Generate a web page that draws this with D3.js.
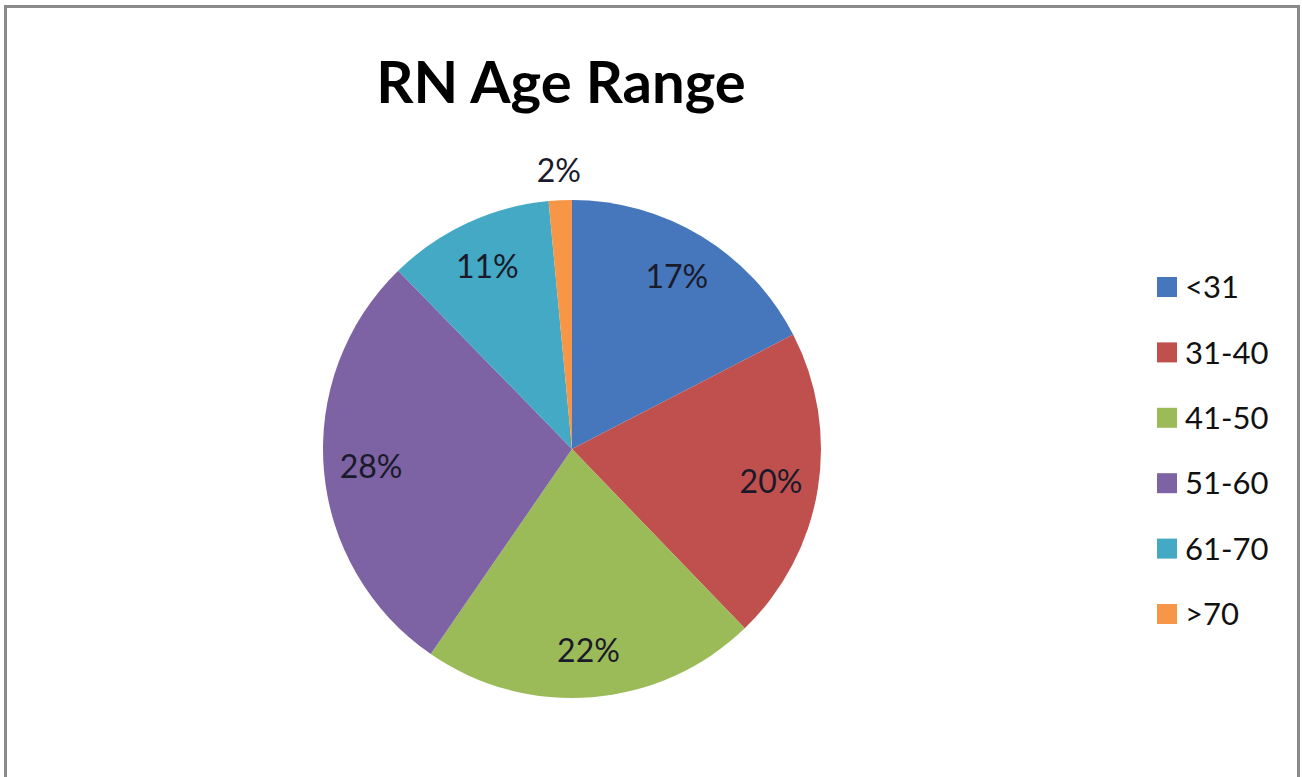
<!DOCTYPE html>
<html>
<head>
<meta charset="utf-8">
<script src="https://cdn.jsdelivr.net/npm/d3@7.9.0/dist/d3.min.js"></script>
<style>
  html, body { margin: 0; padding: 0; background: #fff; }
  svg { display: block; }
</style>
</head>
<body>
<svg id="chart" width="1302" height="777"></svg>
<script>
// Chart data (shares in percent)
const categories = ['<31', '31-40', '41-50', '51-60', '61-70', '>70'];
const shares = [17.4, 20.4, 21.8, 28.1, 10.8, 1.5];
const colors = ['#4677BC', '#C0504D', '#9BBB59', '#7D62A4', '#43A9C4', '#F79646'];
const title = 'RN Age Range';

const svg = d3.select('#chart');

// outer frame (bottom edge is cut off in the picture)
svg.append('rect')
  .attr('x', 5.5).attr('y', 6.5)
  .attr('width', 1293).attr('height', 800)
  .attr('fill', '#fff')
  .attr('stroke', '#8a8a8a')
  .attr('stroke-width', 3);

// title
svg.append('text')
  .attr('x', 561).attr('y', 103)
  .attr('text-anchor', 'middle')
  .style('font-family', 'Lato, "Open Sans", sans-serif')
  .style('font-weight', 'bold')
  .style('font-size', '58px')
  .attr('fill', '#000')
  .text(title);

const data = categories.map((c, i) => ({ label: c, value: shares[i] }));

const cx = 572, cy = 449, r = 249;
const pie = d3.pie().value(d => d.value).sort(null);
const arc = d3.arc().innerRadius(0).outerRadius(r);
const arcs = pie(data);

const g = svg.append('g').attr('transform', `translate(${cx},${cy})`);

g.selectAll('path')
  .data(arcs)
  .join('path')
  .attr('d', arc)
  .attr('fill', (d, i) => colors[i]);

// labels: inside for big slices, outside for the tiny one
g.selectAll('text.lbl')
  .data(arcs)
  .join('text')
  .attr('class', 'lbl')
  .attr('transform', d => {
    const a = (d.startAngle + d.endAngle) / 2;
    const lr = (d.endAngle - d.startAngle) < 0.2 ? r + 30 : r * 0.81;
    return `translate(${Math.sin(a) * lr},${-Math.cos(a) * lr})`;
  })
  .attr('text-anchor', 'middle')
  .attr('dy', '0.36em')
  .style('font-family', 'Lato, "Open Sans", sans-serif')
  .style('font-size', '32px')
  .attr('fill', '#1a1a2a')
  .text(d => Math.round(d.data.value) + '%');

// legend
const legend = svg.append('g').attr('transform', 'translate(1157,287)');
const rowH = 65.4;
const item = legend.selectAll('g')
  .data(data)
  .join('g')
  .attr('transform', (d, i) => `translate(0,${i * rowH})`);

item.append('rect')
  .attr('x', 0).attr('y', -10)
  .attr('width', 20).attr('height', 20)
  .attr('fill', (d, i) => colors[i]);

item.append('text')
  .attr('x', 28).attr('y', 0)
  .attr('dy', '0.36em')
  .style('font-family', 'Lato, "Open Sans", sans-serif')
  .style('font-size', '31px')
  .attr('fill', '#111')
  .text(d => d.label);
</script>
</body>
</html>
